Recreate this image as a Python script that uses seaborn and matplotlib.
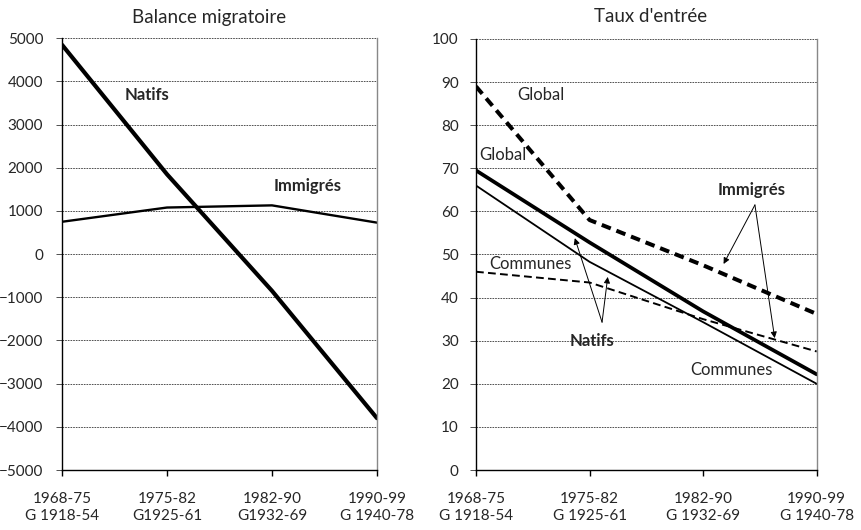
import matplotlib
matplotlib.use("Agg")
import matplotlib.pyplot as plt
import pandas as pd
import seaborn as sns

# Periods (census intervals) and the generations observed in each
periods = ["1968-75", "1975-82", "1982-90", "1990-99"]
gens_left = ["G 1918-54", "G1925-61", "G1932-69", "G 1940-78"]
gens_right = ["G 1918-54", "G 1925-61", "G 1932-69", "G 1940-78"]

# Balance migratoire
balance_natifs = [4850, 1850, -850, -3800]
balance_immigres = [750, 1080, 1130, 730]

# Taux d'entrée
taux_immigres_global = [89.0, 58.0, 47.5, 36.2]
taux_immigres_communes = [46.0, 43.5, 35.0, 27.5]
taux_natifs_global = [69.5, 52.8, 36.8, 22.2]
taux_natifs_communes = [66.0, 48.3, 34.3, 20.0]

sns.set_style("white")
plt.rcParams["font.family"] = ["Lato", "DejaVu Sans"]
plt.rcParams["font.size"] = 11

W, H = 861, 530
fig = plt.figure(figsize=(W / 100, H / 100), dpi=100)


def px_axes(x0, y0, x1, y1):
    return fig.add_axes([x0 / W, 1 - y1 / H, (x1 - x0) / W, (y1 - y0) / H])


ax1 = px_axes(62, 38.3, 377, 470)
ax2 = px_axes(476, 39, 816.7, 470)

pos = list(range(len(periods)))


def series(values):
    return pd.DataFrame({"pos": pos, "val": values})


# Left panel
sns.lineplot(data=series(balance_natifs), x="pos", y="val", ax=ax1,
             color="black", lw=3.0, solid_joinstyle="miter")
sns.lineplot(data=series(balance_immigres), x="pos", y="val", ax=ax1,
             color="black", lw=1.7)
ax1.set_ylim(-5000, 5000)
ax1.set_yticks(range(-5000, 5001, 1000))

# Right panel
sns.lineplot(data=series(taux_immigres_global), x="pos", y="val", ax=ax2,
             color="black", lw=2.9, linestyle=(0, (2.4, 1.5)))
sns.lineplot(data=series(taux_immigres_communes), x="pos", y="val", ax=ax2,
             color="black", lw=1.4, linestyle=(0, (4, 2.2)))
sns.lineplot(data=series(taux_natifs_global), x="pos", y="val", ax=ax2,
             color="black", lw=2.7)
sns.lineplot(data=series(taux_natifs_communes), x="pos", y="val", ax=ax2,
             color="black", lw=1.3)
ax2.set_ylim(0, 100)
ax2.set_yticks(range(0, 101, 10))

for ax, gens, ypad in ((ax1, gens_left, 9.0), (ax2, gens_right, 8.0)):
    ax.set_xlim(0, 3)
    ax.set_xticks(pos)
    ax.set_xticklabels([f"{p}\n{g}" for p, g in zip(periods, gens)],
                       linespacing=1.3)
    ax.set_xlabel("")
    ax.set_ylabel("")
    ax.grid(axis="y", color="#333333", lw=0.6, linestyle=(0, (2, 1.2)))
    ax.set_axisbelow(True)
    for s in ("left", "bottom"):
        ax.spines[s].set_color("black")
        ax.spines[s].set_linewidth(1.0)
    ax.spines["top"].set_visible(False)
    ax.spines["right"].set_color("#888888")
    ax.spines["right"].set_linewidth(1.0)
    ax.tick_params(axis="x", direction="out", length=4, width=1.0,
                   color="black", pad=11.5, bottom=True)
    ax.tick_params(axis="y", direction="out", length=4.5, width=0.6,
                   color="#333333", pad=ypad, left=True)
    ax.patch.set_facecolor("white")

# Titles
fig.text(209 / W, 1 - 17 / H, "Balance migratoire", ha="center", va="center",
         fontsize=13.5)
fig.text(651 / W, 1 - 17 / H, "Taux d'entrée", ha="center", va="center",
         fontsize=13.5)

# Left panel labels
lab = dict(ha="center", va="center", fontsize=12)
ax1.text(0.81, 3690, "Natifs", fontweight="bold", **lab)
ax1.text(2.34, 1580, "Immigrés", fontweight="bold", **lab)

# Right panel labels
ax2.text(0.57, 87.0, "Global", **lab)
ax2.text(0.24, 73.1, "Global", **lab)
ax2.text(0.48, 47.8, "Communes", **lab)
ax2.text(2.25, 23.2, "Communes", **lab)
ax2.text(2.43, 65.0, "Immigrés", fontweight="bold", **lab)
ax2.text(1.02, 29.9, "Natifs", fontweight="bold", **lab)

arrow = dict(arrowstyle="-|>", lw=0.7, color="black", mutation_scale=9,
             shrinkA=0, shrinkB=0)
for tip in ((2.18, 47.8), (2.63, 30.6)):
    ax2.annotate("", xy=tip, xytext=(2.456, 61.5), arrowprops=arrow)
for tip in ((0.87, 53.8), (1.16, 44.8)):
    ax2.annotate("", xy=tip, xytext=(1.11, 34.3), arrowprops=arrow)

fig.savefig("out.png", dpi=100, facecolor="white")
